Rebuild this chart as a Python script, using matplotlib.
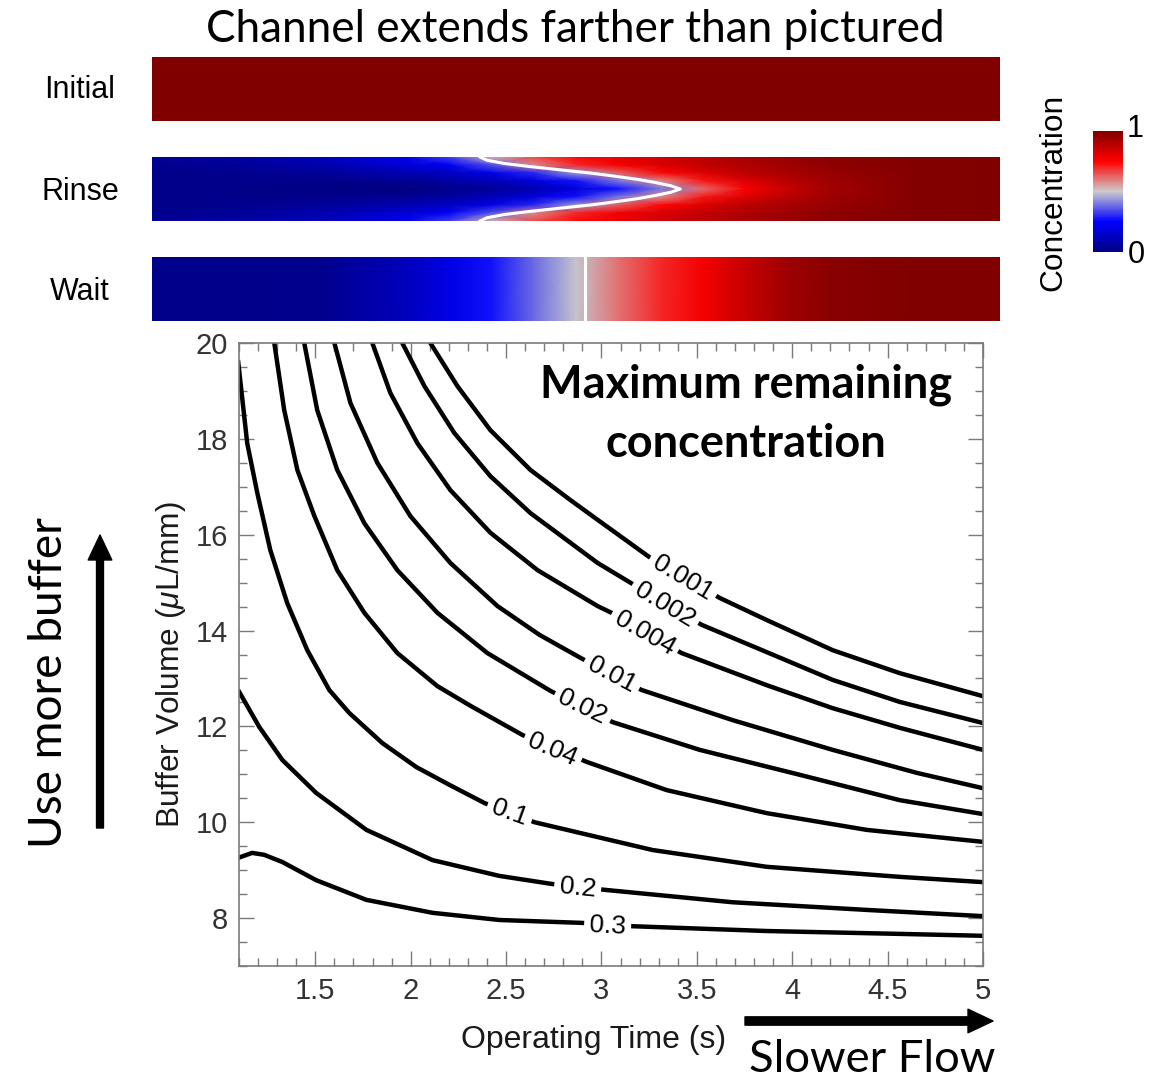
import numpy as np
import matplotlib
matplotlib.use("Agg")
import matplotlib.pyplot as plt
from matplotlib.colors import LinearSegmentedColormap, Normalize
from matplotlib.cm import ScalarMappable
from matplotlib.patches import FancyArrowPatch
from matplotlib.ticker import MultipleLocator

plt.rcParams["font.family"] = ["Liberation Sans", "DejaVu Sans"]
plt.rcParams["mathtext.fontset"] = "custom"
plt.rcParams["mathtext.it"] = "Liberation Sans:italic"
plt.rcParams["mathtext.rm"] = "Liberation Sans"

# colour scale of the channel pictures (concentration 0 -> 1)
conc_colors = ["#000080", "#0000ff", "#cccccc", "#ff0000", "#800000"]

# channel pictures: position along the pictured length (0 = left end, 1 = right end)
chan_pos = [0, 0.1, 0.2, 0.3, 0.35, 0.4, 0.45, 0.5, 0.55, 0.6, 0.65, 0.7, 0.75, 0.8, 0.9, 1.0]
initial_conc = [1.0] * 16
wait_conc = [0.02, 0.02, 0.03, 0.12, 0.20, 0.27, 0.38, 0.49, 0.61, 0.70, 0.77, 0.86, 0.94, 0.98, 1.0, 1.0]
# rinse: rows from the wall (height 1.0) in to the middle of the channel (0.5)
rinse_heights = [1.0, 0.875, 0.75, 0.625, 0.5]
rinse_wall = [0.04, 0.07, 0.12, 0.22, 0.33, 0.53, 0.66, 0.74, 0.79, 0.84, 0.88, 0.92, 0.95, 0.97, 0.99, 1.0]
rinse_r0875 = [0.03, 0.05, 0.09, 0.17, 0.23, 0.35, 0.58, 0.70, 0.77, 0.82, 0.87, 0.91, 0.94, 0.97, 0.99, 1.0]
rinse_r075 = [0.02, 0.03, 0.05, 0.10, 0.13, 0.20, 0.30, 0.44, 0.63, 0.74, 0.82, 0.88, 0.92, 0.95, 0.99, 1.0]
rinse_r0625 = [0.02, 0.02, 0.02, 0.04, 0.07, 0.11, 0.18, 0.27, 0.40, 0.58, 0.72, 0.82, 0.89, 0.94, 0.99, 1.0]
rinse_mid = [0.02, 0.02, 0.01, 0.0, 0.02, 0.05, 0.10, 0.18, 0.27, 0.40, 0.62, 0.76, 0.86, 0.93, 0.99, 1.0]
# white 0.5 line in the rinse picture (upper half, mirrored below)
front_h = [1.0, 0.95, 0.9, 0.85, 0.8, 0.75, 0.7, 0.65, 0.6, 0.55, 0.5]
front_pos = [0.387, 0.395, 0.415, 0.446, 0.481, 0.517, 0.546, 0.573, 0.594, 0.612, 0.623]
wait_front = 0.511

# contour lines: operating time (s) vs buffer volume (uL/mm)
levels = ["0.001", "0.002", "0.004", "0.01", "0.02", "0.04", "0.1", "0.2", "0.3"]
t_0001 = [2.103, 2.245, 2.418, 2.628, 2.838, 2.980, 3.252, 3.620, 3.866, 4.212, 4.564, 5.0]
v_0001 = [20.0, 19.10, 18.18, 17.35, 16.72, 16.31, 15.53, 14.68, 14.22, 13.59, 13.11, 12.63]
t_0002 = [1.956, 2.072, 2.229, 2.418, 2.628, 2.838, 2.980, 3.147, 3.525, 3.866, 4.212, 4.564, 5.0]
v_0002 = [20.0, 19.10, 18.12, 17.22, 16.45, 15.83, 15.41, 15.01, 14.12, 13.55, 12.97, 12.51, 12.07]
t_0004 = [1.799, 1.893, 2.035, 2.208, 2.418, 2.665, 2.980, 3.053, 3.420, 3.866, 4.212, 4.564, 5.0]
v_0004 = [20.0, 18.96, 17.91, 16.93, 16.04, 15.26, 14.51, 14.37, 13.53, 12.86, 12.38, 11.97, 11.51]
t_001 = [1.600, 1.684, 1.825, 1.998, 2.208, 2.455, 2.675, 2.890, 3.210, 3.688, 4.212, 4.653, 5.0]
v_001 = [20.0, 18.75, 17.50, 16.39, 15.41, 14.51, 13.91, 13.43, 12.76, 12.13, 11.51, 11.03, 10.71]
t_002 = [1.442, 1.510, 1.615, 1.757, 1.930, 2.140, 2.402, 2.733, 3.058, 3.515, 4.039, 4.564, 5.0]
v_002 = [20.0, 18.60, 17.35, 16.24, 15.26, 14.37, 13.53, 12.74, 12.09, 11.51, 10.99, 10.46, 10.17]
t_004 = [1.285, 1.337, 1.406, 1.495, 1.615, 1.757, 1.930, 2.140, 2.313, 2.586, 2.922, 3.342, 3.866, 4.391, 5.0]
v_004 = [20.0, 18.60, 17.35, 16.39, 15.26, 14.37, 13.53, 12.84, 12.43, 11.82, 11.26, 10.67, 10.19, 9.84, 9.59]
t_01 = [1.096, 1.143, 1.196, 1.264, 1.353, 1.458, 1.573, 1.678, 1.852, 2.030, 2.203, 2.387, 2.649, 3.268, 3.866, 4.564, 5.0]
v_01 = [19.60, 17.91, 16.87, 15.68, 14.57, 13.59, 12.76, 12.28, 11.65, 11.15, 10.78, 10.40, 10.00, 9.42, 9.07, 8.86, 8.75]
t_02 = [1.101, 1.206, 1.327, 1.505, 1.768, 2.114, 2.465, 2.743, 3.016, 3.688, 4.391, 5.0]
v_02 = [12.72, 11.99, 11.30, 10.61, 9.84, 9.21, 8.88, 8.71, 8.59, 8.33, 8.17, 8.04]
t_03 = [1.091, 1.169, 1.232, 1.327, 1.505, 1.768, 2.114, 2.465, 2.896, 3.163, 3.866, 4.564, 5.0]
v_03 = [9.25, 9.36, 9.32, 9.17, 8.79, 8.38, 8.11, 7.96, 7.90, 7.83, 7.73, 7.67, 7.63]

# where each contour carries its label
label_t = [3.425, 3.331, 3.226, 3.053, 2.901, 2.743, 2.518, 2.875, 3.032]
label_v = [15.10, 14.53, 13.95, 13.07, 12.40, 11.51, 10.19, 8.63, 7.83]

x_ticks = [1.5, 2, 2.5, 3, 3.5, 4, 4.5, 5]
x_tick_labels = ["1.5", "2", "2.5", "3", "3.5", "4", "4.5", "5"]
y_ticks = [8, 10, 12, 14, 16, 18, 20]
y_tick_labels = ["8", "10", "12", "14", "16", "18", "20"]

curves_t = [t_0001, t_0002, t_0004, t_001, t_002, t_004, t_01, t_02, t_03]
curves_v = [v_0001, v_0002, v_0004, v_001, v_002, v_004, v_01, v_02, v_03]
label_rot = [-31, -31, -30, -28, -26, -23, -20, -6, -3]

W, H = 1158, 1080


def box(left, top, right, bottom):
    return [left / W, 1 - bottom / H, (right - left) / W, (bottom - top) / H]


def at(x, y):
    return x / W, 1 - y / H


fig = plt.figure(figsize=(W / 100, H / 100), dpi=100)
cmap = LinearSegmentedColormap.from_list("conc", conc_colors)
renderer = fig.canvas.get_renderer()


def fit(txt, target, vertical=False):
    bb = txt.get_window_extent(renderer)
    size = bb.height if vertical else bb.width
    txt.set_fontsize(txt.get_fontsize() * target / size)


# ---- channel pictures
def channel_axes(top):
    a = fig.add_axes(box(152, top, 1000, top + 64))
    a.set_xlim(0, 1)
    a.set_ylim(0, 1)
    a.axis("off")
    return a

ax_i = channel_axes(57)
X, Y = np.meshgrid(chan_pos, [0, 1])
ax_i.pcolormesh(X, Y, np.array([initial_conc, initial_conc]), shading="gouraud",
                cmap=cmap, vmin=0, vmax=1)

ax_r = channel_axes(157)
rows = np.array([rinse_wall, rinse_r0875, rinse_r075, rinse_r0625, rinse_mid])
full_c = np.vstack([rows, rows[-2::-1]])
full_h = rinse_heights + [1 - h for h in rinse_heights[-2::-1]]
X, Y = np.meshgrid(chan_pos, full_h)
ax_r.pcolormesh(X, Y, full_c, shading="gouraud", cmap=cmap, vmin=0, vmax=1)
fx = front_pos + front_pos[-2::-1]
fy = front_h + [1 - h for h in front_h[-2::-1]]
ax_r.plot(fx, fy, color="white", lw=2.2)

ax_w = channel_axes(257)
X, Y = np.meshgrid(chan_pos, [0, 1])
ax_w.pcolormesh(X, Y, np.array([wait_conc, wait_conc]), shading="gouraud",
                cmap=cmap, vmin=0, vmax=1)
ax_w.plot([wait_front, wait_front], [0, 1], color="white", lw=2.2)

for name, base in [("Initial", 98), ("Rinse", 200), ("Wait", 300)]:
    fig.text(*at(80, base), name, ha="center", va="baseline", fontsize=22)

t = fig.text(*at(575, 42), "Channel extends farther than pictured", ha="center",
             va="baseline", family="Lato", fontsize=30)
fit(t, 738)

# ---- colour bar
cax = fig.add_axes(box(1093, 131, 1123, 252))
cb = fig.colorbar(ScalarMappable(norm=Normalize(0, 1), cmap=cmap), cax=cax)
cb.outline.set_visible(False)
cb.set_ticks([])
fig.text(*at(1135, 137), "1", ha="center", va="baseline", fontsize=22)
fig.text(*at(1136, 263), "0", ha="center", va="baseline", fontsize=22)
t = fig.text(*at(1053, 192), "Concentration", rotation=90, ha="center", va="center", fontsize=21)
fit(t, 197, vertical=True)

# ---- contour plot
ax = fig.add_axes(box(239, 343, 983, 966))
for tt, vv in zip(curves_t, curves_v):
    ax.plot(tt, vv, color="black", lw=3.2, solid_joinstyle="round")
for lab, tt, vv, r in zip(levels, label_t, label_v, label_rot):
    ax.text(tt, vv, lab, rotation=r, rotation_mode="anchor", ha="center", va="center",
            fontsize=19, bbox=dict(boxstyle="square,pad=0.2", fc="white", ec="none"))

ax.set_xlim(1.1, 5)
ax.set_ylim(7, 20)
ax.set_xticks(x_ticks)
ax.set_xticklabels(x_tick_labels)
ax.set_yticks(y_ticks)
ax.set_yticklabels(y_tick_labels)
ax.xaxis.set_minor_locator(MultipleLocator(0.1))
ax.yaxis.set_minor_locator(MultipleLocator(0.5))
ax.tick_params(which="both", direction="in", top=True, right=True, color="#7a7a7a",
               labelcolor="#333333", labelsize=21, pad=8)
ax.tick_params(which="major", length=11, width=1.0)
ax.tick_params(which="minor", length=6, width=1.0)
for s in ax.spines.values():
    s.set_color("#7a7a7a")
    s.set_linewidth(1.2)

t = fig.text(*at(746, 398), "Maximum remaining", ha="center", va="baseline",
             family="Lato", weight="bold", fontsize=30)
fit(t, 412)
fig.text(*at(746, 457), "concentration", ha="center", va="baseline", family="Lato",
         weight="bold", fontsize=t.get_fontsize())

t = fig.text(*at(594, 1048), "Operating Time (s)", ha="center", va="baseline",
             fontsize=22, color="#1a1a1a")
fit(t, 264)
t = fig.text(*at(171, 665), r"Buffer Volume ($\mu$L/mm)", rotation=90, ha="center",
             va="center", fontsize=22, color="#1a1a1a")
fit(t, 327, vertical=True)

# ---- direction hints
t = fig.text(*at(49, 683), "Use more buffer", rotation=90, ha="center", va="center",
             family="Lato", fontsize=30)
fit(t, 331, vertical=True)
fig.add_artist(FancyArrowPatch(at(100, 828), at(100, 535), transform=fig.transFigure,
                               arrowstyle="simple,head_width=17,head_length=18,tail_width=5",
                               mutation_scale=1, shrinkA=0, shrinkB=0, color="black"))
t = fig.text(*at(872, 1072), "Slower Flow", ha="center", va="baseline", family="Lato",
             fontsize=30)
fit(t, 246)
fig.add_artist(FancyArrowPatch(at(745, 1021), at(993, 1021), transform=fig.transFigure,
                               arrowstyle="simple,head_width=17,head_length=18,tail_width=6",
                               mutation_scale=1, shrinkA=0, shrinkB=0, color="black"))

fig.savefig("out.png", dpi=100)
